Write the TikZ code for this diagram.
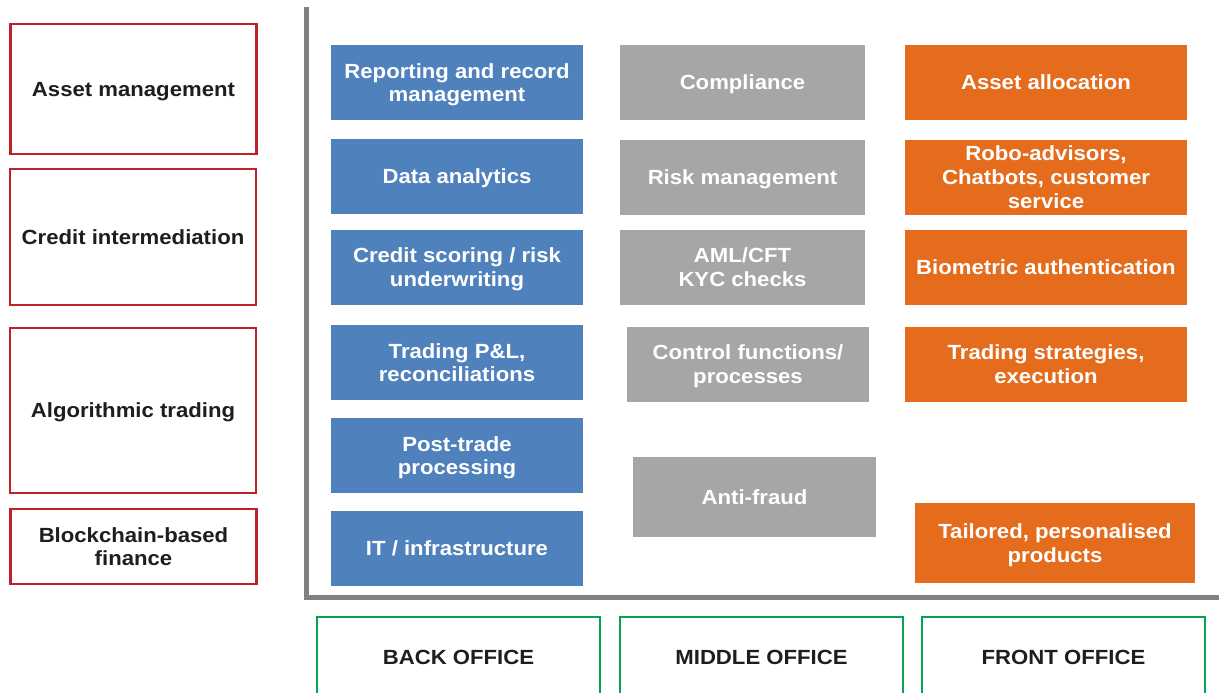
\documentclass[tikz,border=0pt]{standalone}
\usepackage{fontspec}
\setmainfont{Liberation Sans}[FakeStretch=1.08]

\definecolor{backblue}{RGB}{79,129,189}
\definecolor{midgray}{RGB}{166,166,166}
\definecolor{frontorange}{RGB}{228,108,28}
\definecolor{sectorred}{RGB}{192,32,40}
\definecolor{officegreen}{RGB}{0,166,81}
\definecolor{axisgray}{RGB}{128,128,128}
\definecolor{labelblack}{RGB}{30,30,30}

\begin{document}
\begin{tikzpicture}[x=1pt,y=-1pt,
        every node/.style={font=\fontsize{20.5}{23.8}\selectfont\bfseries, align=center, inner sep=0pt, text depth=-1.5pt},
        sector/.style={draw=sectorred, line width=2.5pt, text=labelblack, minimum width=246pt},
        task/.style={text=white, minimum width=252pt, minimum height=75pt},
        backtask/.style={task, fill=backblue},
        midtask/.style={task, fill=midgray, minimum width=245pt},
        fronttask/.style={task, fill=frontorange, minimum width=282pt},
        office/.style={draw=officegreen, line width=2pt, text=labelblack, minimum width=283pt, minimum height=80pt}]

        \clip (0,0) rectangle (1219,693);
        \fill[white] (0,0) rectangle (1219,693);

        % Sectors on the left
        \node[sector, minimum height=130pt] (asset) at (133.5,89) {Asset management};
        \node[sector, minimum height=136pt] (credit) at (133,237) {Credit intermediation};
        \node[sector, minimum height=165pt] (algo) at (133,410.5) {Algorithmic trading};
        \node[sector, minimum height=75pt] (chain) at (133.5,546.5) {Blockchain-based\\finance};

        % Axis between sectors and functions
        \draw[axisgray, line width=5pt] (306,7) -- (306,597) -- (1225,597);

        % Back office functions
        \node[backtask] (report) at (457,82.5) {Reporting and record\\management};
        \node[backtask] (data) at (457,176.5) {Data analytics};
        \node[backtask] (scoring) at (457,267) {Credit scoring / risk\\underwriting};
        \node[backtask] (pnl) at (457,362.5) {Trading P\&L,\\reconciliations};
        \node[backtask] (posttrade) at (457,455.5) {Post-trade\\processing};
        \node[backtask] (infra) at (457,548) {IT / infrastructure};

        % Middle office functions
        \node[midtask] (compliance) at (742.5,82.5) {Compliance};
        \node[midtask] (risk) at (742.5,177.5) {Risk management};
        \node[midtask] (aml) at (742.5,267) {AML/CFT\\KYC checks};
        \node[midtask, minimum width=242pt] (control) at (748,364) {Control functions/\\processes};
        \node[midtask, minimum width=243pt, minimum height=80pt] (fraud) at (754.5,497) {Anti-fraud};

        % Front office functions
        \node[fronttask] (allocation) at (1046,82.5) {Asset allocation};
        \node[fronttask] (robo) at (1046,177) {Robo-advisors,\\Chatbots, customer\\service};
        \node[fronttask] (biometric) at (1046,267) {Biometric authentication};
        \node[fronttask] (strategy) at (1046,364) {Trading strategies,\\execution};
        \node[fronttask, minimum width=280pt, minimum height=80pt] (tailored) at (1055,543) {Tailored, personalised\\products};

        % Office labels
        \node[office] (back) at (458.5,657) {BACK OFFICE};
        \node[office] (middle) at (761.5,657) {MIDDLE OFFICE};
        \node[office] (front) at (1063.5,657) {FRONT OFFICE};

    \end{tikzpicture}
\end{document}
